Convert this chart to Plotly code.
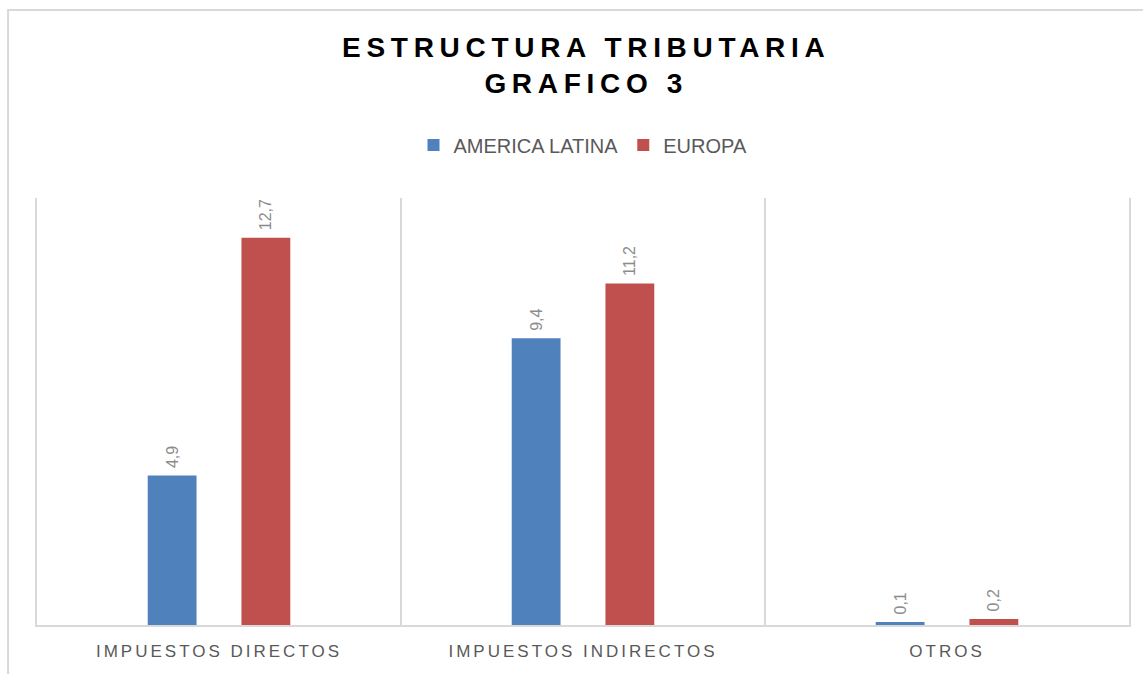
import plotly.graph_objects as go

categories = ["IMPUESTOS DIRECTOS", "IMPUESTOS INDIRECTOS", "OTROS"]
america_latina = [4.9, 9.4, 0.1]
europa = [12.7, 11.2, 0.2]
series_names = ["AMERICA LATINA", "EUROPA"]

BLUE = "#4F81BD"
RED = "#C0504D"
GRID = "#d9d9d9"

fig = go.Figure()
for name, vals, col in [(series_names[0], america_latina, BLUE), (series_names[1], europa, RED)]:
    fig.add_trace(go.Bar(
        name=name, x=categories, y=vals,
        marker=dict(color=col, line=dict(width=0)),
        texttemplate="\u00a0%{y:.1f}", textposition="outside", textangle=-90,
        textfont=dict(family="Liberation Sans", size=16, color="#8c8c8c"),
        cliponaxis=False,
    ))

fig.update_layout(
    width=1143, height=674,
    margin=dict(l=37, r=12, t=198, b=49),
    paper_bgcolor="white", plot_bgcolor="white",
    separators=", ",
    barmode="group", bargap=0.485, bargroupgap=0.479,
    title=dict(
        text="ESTRUCTURA TRIBUTARIA<br>GRAFICO 3",
        font=dict(family="Liberation Sans", size=28, color="black", weight="bold"),
        x=0.503, xanchor="center", xref="paper",
        y=1 - 57 / 674, yanchor="top", yref="container",
    ),
    legend=dict(
        orientation="h", x=0.5, xanchor="center", y=1 + (198 - 145) / 427, yanchor="middle",
        font=dict(family="Liberation Sans", size=20, color="#595959"),
        itemsizing="constant", traceorder="normal", itemwidth=30,
    ),
    showlegend=True,
    xaxis=dict(
        type="category", tickson="boundaries", showgrid=True, gridcolor=GRID, gridwidth=1.5,
        showline=True, linecolor=GRID, linewidth=1.5, ticks="",
        tickfont=dict(family="Liberation Sans", size=17, color="#595959"),
        ticklabelstandoff=10,
    ),
    yaxis=dict(
        range=[0, 14], showgrid=False, showticklabels=False, zeroline=False,
        showline=True, mirror=True, linecolor=GRID, linewidth=1.5, ticks="",
    ),
    shapes=[dict(
        type="rect", xref="paper", yref="paper",
        x0=(8 - 37) / 1094, x1=(1160 - 37) / 1094,
        y0=-(700 - 625) / 427, y1=1 + (198 - 10) / 427,
        line=dict(color=GRID, width=2), fillcolor="rgba(0,0,0,0)", layer="below",
    )],
)

post_script = """
var s=document.createElement('style');
s.innerHTML='body{margin:0;overflow:hidden}.gtitle{letter-spacing:5.7px}.xtick text{letter-spacing:3px}';
document.head.appendChild(s);
"""

fig.write_html("out.html", post_script=post_script, config={"displayModeBar": False})
